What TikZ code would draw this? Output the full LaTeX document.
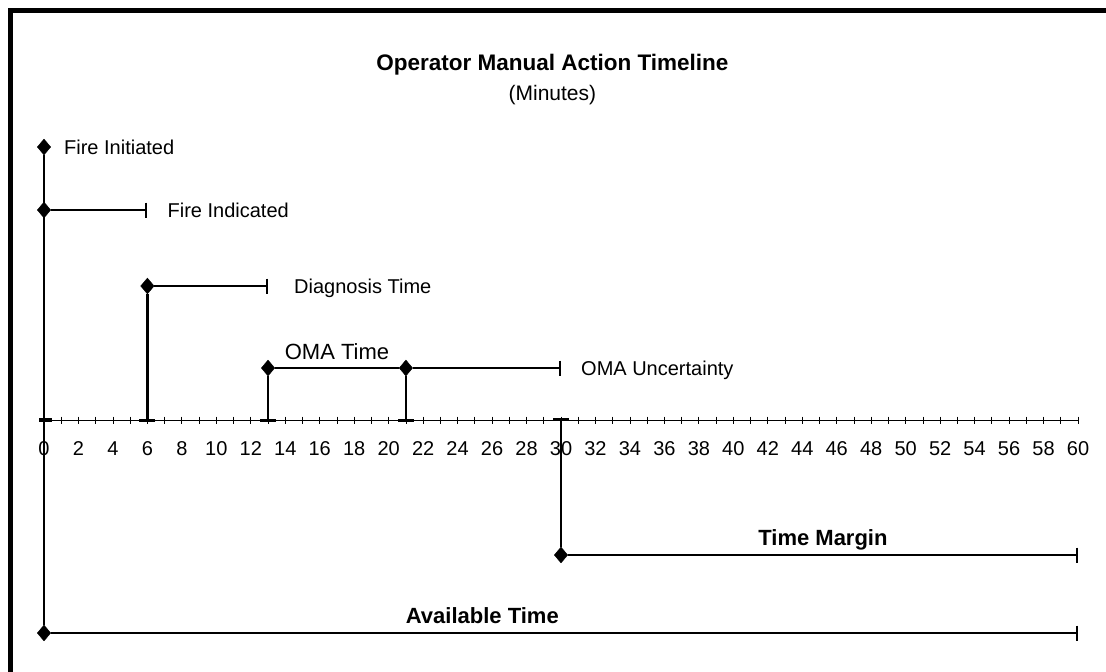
\documentclass[tikz,border=0pt]{standalone}
\usepackage{fontspec}
\setmainfont{Liberation Sans}
\usetikzlibrary{positioning,shapes.geometric,arrows.meta}

\begin{document}
\begin{tikzpicture}[
  x=17.2333pt,
  y=-1pt,
  event/.style={
    draw,
    fill,
    diamond,
    inner sep=0pt,
    minimum width=13.5pt,
    minimum height=16pt
  },
  tag/.style={inner sep=0pt, text depth=0pt, font=\fontsize{20}{24}\selectfont},
  bigtag/.style={inner sep=0pt, text depth=0pt, font=\fontsize{22}{26}\selectfont\bfseries},
  timebar/.style={line width=2.8pt},
  endbar/.style={-{Bar[width=15pt,line width=2pt]}},
  footbar/.style={-{Bar[width=16pt,line width=3.2pt]}}
]
\useasboundingbox ({-44/17.2333},0) rectangle ({1062/17.2333},672);
\draw[line width=4.5pt] ({-33.5/17.2333},672) |- ({1062/17.2333},10.5);

\node (title) [inner sep=0pt, text depth=0pt, font=\fontsize{22.5}{26}\selectfont\bfseries] at (29.5,62) {Operator Manual Action Timeline};
\node (unit) [tag, font=\fontsize{21}{24}\selectfont] at (29.5,93) {(Minutes)};

\draw[line width=0.9pt] (0,420) -- (60,420);
\foreach \m in {0,...,60}
  \draw[line width=0.8pt] (\m,416.5) -- (\m,423.5);
\foreach \m in {0,2,...,60}
  \node (n\m) [tag] at (\m,449) {\m};

\node (init) [event] at (0,147) {};
\node (indic) [event] at (0,210) {};
\node (diag) [event] at (6,286) {};
\node (oma) [event] at (13,368) {};
\node (unc) [event] at (21,368) {};
\node (margin) [event] at (30,555) {};
\node (avail) [event] at (0,633) {};

\coordinate (indicend) at (6,210);
\coordinate (diagend) at (13,286);
\coordinate (uncend) at (30,368);
\coordinate (marginend) at (60,555);
\coordinate (availend) at (60,633);
\coordinate (zerofoot) at (0,420);
\coordinate (diagfoot) at (6,422);
\coordinate (omafoot) at (13,422);
\coordinate (uncfoot) at (21,422);
\coordinate (margintop) at (30,418);

\draw[timebar] (init) -- (avail);
\draw[line width=3.2pt] ([xshift=-5pt]zerofoot) -- ([xshift=8pt]zerofoot);
\draw[timebar, endbar] (indic) -- (indicend);
\draw[timebar, endbar] (diag) -- (diagend);
\draw[timebar, footbar] (diag) -- (diagfoot);
\draw[timebar] (oma) -- (unc);
\draw[line width=1.8pt, endbar] (unc) -- (uncend);
\draw[timebar, footbar] (oma) -- (omafoot);
\draw[timebar, footbar] (unc) -- (uncfoot);
\draw[timebar, footbar] (margin) -- (margintop);
\draw[timebar, endbar] (margin) -- (marginend);
\draw[timebar, endbar] (avail) -- (availend);

\node (initlbl) [tag, right=13pt of init] {Fire Initiated};
\node (indiclbl) [tag, right=20pt of indicend] {Fire Indicated};
\node (diaglbl) [tag, right=26pt of diagend] {Diagnosis Time};
\node (unclbl) [tag, right=20pt of uncend] {OMA Uncertainty};
\path (oma) -- (unc) node (omalbl) [tag, font=\fontsize{22}{26}\selectfont, midway, above=8.5pt] {OMA Time};
\path (margin) -- (marginend) node (marginlbl) [bigtag, midway, above=9pt] {Time Margin};
\path (avail) -- (availend) node (availlbl) [bigtag, pos=0.42, above=9pt] {Available Time};
\end{tikzpicture}
\end{document}
